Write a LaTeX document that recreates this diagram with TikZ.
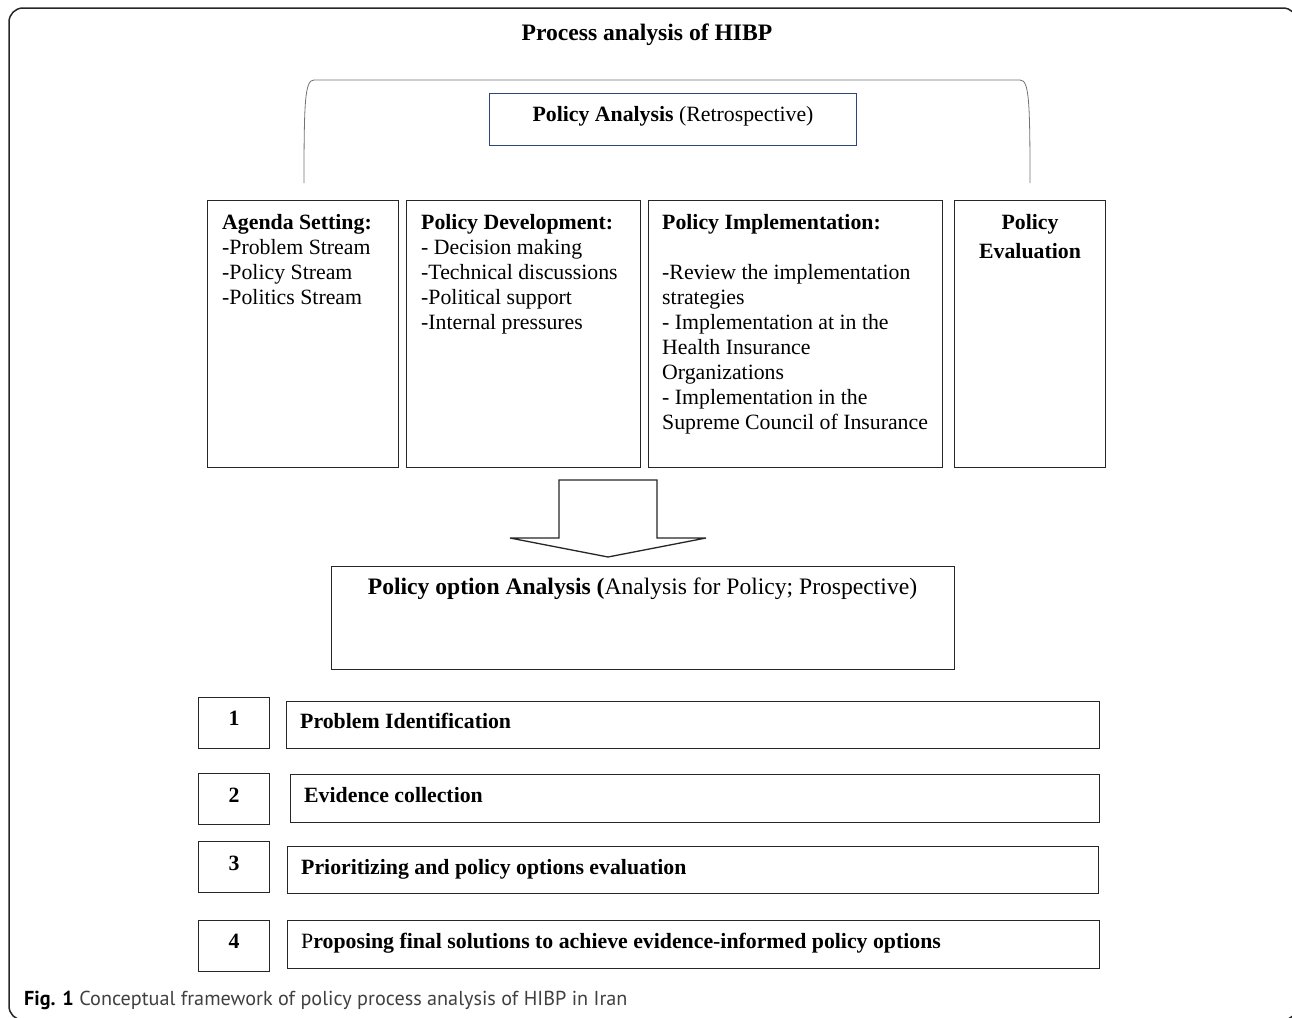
\documentclass[tikz,border=0pt]{standalone}
\usepackage{fontspec}
\setmainfont{Liberation Serif}
\newfontfamily\capfont{PT Sans}
\begin{document}
\begin{tikzpicture}[x=1pt,y=-1pt,
  box/.style={draw=black!85,line width=1.3pt,inner sep=0pt,anchor=north west},
  txt/.style={inner sep=0pt,font=\fontsize{21.8}{25}\selectfont},
  big/.style={inner sep=0pt,anchor=base,font=\fontsize{23.6}{27}\selectfont},
  mtxt/.style={txt,anchor=north west,align=left},
  ltxt/.style={txt,anchor=base west},
  ctxt/.style={txt,anchor=base},
  bf/.style={font=\fontsize{21.8}{25}\selectfont\bfseries}]
\useasboundingbox (0,0) rectangle (1292,1017);
% outer frame
\draw[line width=1.5pt,black!85,rounded corners=14pt] (9,8) rectangle (1297,1020);
% title
\node[big,font=\fontsize{23.6}{27}\selectfont\bfseries] (title) at (647,40) {Process analysis of HIBP};
% bracket
\draw[black!55,line width=0.8pt] (304,183) .. controls (304,100) and (305,80) .. (314,80) -- (1020,80) .. controls (1029,80) and (1030,100) .. (1030,183);
% policy analysis box
\node[box,draw={rgb,255:red,47;green,70;blue,120},minimum width=367pt,minimum height=52pt] (pa) at (489,93) {};
\node[ctxt] (paT) at (673,121) {\textbf{Policy Analysis} (Retrospective)};
% four stage boxes
\node[box,minimum width=191pt,minimum height=267pt] (agenda) at (207,200) {};
\node[box,minimum width=234pt,minimum height=267pt] (dev) at (406,200) {};
\node[box,minimum width=294pt,minimum height=267pt] (impl) at (648,200) {};
\node[box,minimum width=151pt,minimum height=267pt] (eval) at (954,200) {};
\node[mtxt] (agendaT) at (222,211.5) {\strut\textbf{Agenda Setting:}\\-Problem Stream\\-Policy Stream\\-Politics Stream};
\node[mtxt] (devT) at (421,211.5) {\strut\textbf{Policy Development:}\\- Decision making\\-Technical discussions\\-Political support\\-Internal pressures};
\node[mtxt] (implT) at (662,211.5) {\strut\textbf{Policy Implementation:}\\\strut\\-Review the implementation\\strategies\\- Implementation at in the\\Health Insurance\\Organizations\\- Implementation in the\\Supreme Council of Insurance};
\node[txt,anchor=north,align=center,font=\fontsize{21.8}{29}\selectfont\bfseries] (evalT) at (1030,209) {\strut Policy\\Evaluation};
% block arrow
\draw[black!85,line width=1.3pt,fill=white] (559,480) -- (657,480) -- (657,538) -- (706,538) -- (608,557) -- (510,538) -- (559,538) -- cycle;
% policy option analysis box
\node[box,minimum width=623pt,minimum height=103pt] (poa) at (331,566) {};
\node[big] (poaT) at (642.5,594) {\textbf{Policy option Analysis (}Analysis for Policy; Prospective)};
% numbered steps
\node[box,minimum width=71pt,minimum height=51pt] (n1) at (198,697) {};
\node[box,minimum width=71pt,minimum height=51pt] (n2) at (198,773) {};
\node[box,minimum width=71pt,minimum height=51pt] (n3) at (198,841) {};
\node[box,minimum width=71pt,minimum height=51pt] (n4) at (198,920) {};
\node[ctxt,bf] (n1T) at (234,725) {1};
\node[ctxt,bf] (n2T) at (234,802) {2};
\node[ctxt,bf] (n3T) at (234,870) {3};
\node[ctxt,bf] (n4T) at (234,948) {4};
\node[box,minimum width=813pt,minimum height=47pt] (s1) at (286,701) {};
\node[box,minimum width=809pt,minimum height=48pt] (s2) at (290,774) {};
\node[box,minimum width=811pt,minimum height=47pt] (s3) at (287,846) {};
\node[box,minimum width=812pt,minimum height=48pt] (s4) at (287,920) {};
\node[ltxt,bf] (s1T) at (300,728) {Problem Identification};
\node[ltxt,bf] (s2T) at (304,802) {Evidence collection};
\node[ltxt,bf] (s3T) at (301,874) {Prioritizing and policy options evaluation};
\node[ltxt] (s4T) at (301,948) {P\textbf{roposing final solutions to achieve evidence-informed policy options}};
% caption
\node[anchor=base west,inner sep=0pt,font=\capfont\fontsize{20.2}{24}\selectfont,text=black!75] (cap) at (24,1005) {\textbf{\color{black}Fig. 1} Conceptual framework of policy process analysis of HIBP in Iran};
\end{tikzpicture}
\end{document}
